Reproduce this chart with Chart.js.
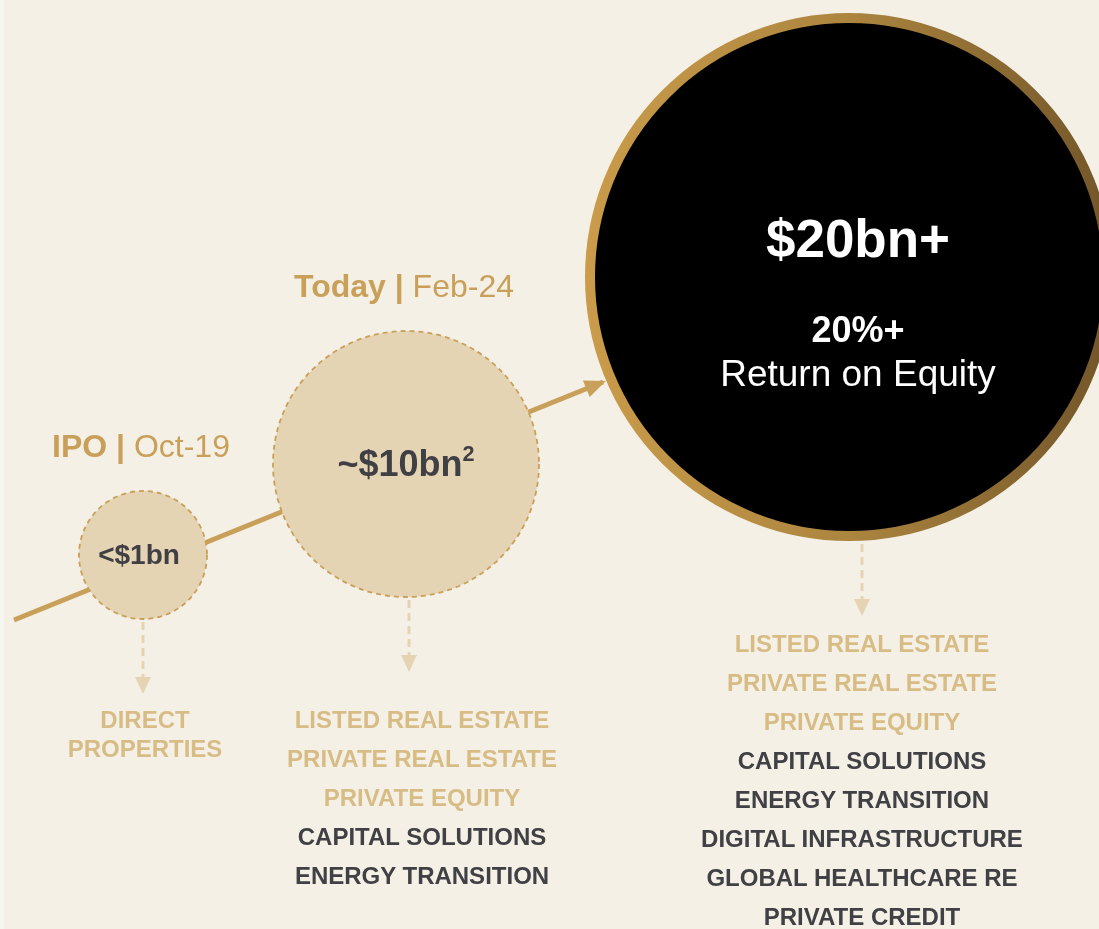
<!DOCTYPE html>
<html>
<head>
<meta charset="utf-8">
<script src="https://cdn.jsdelivr.net/npm/chart.js"></script>
<style>
  html, body { margin: 0; padding: 0; background: #f4f0e6; }
  #wrap { position: relative; width: 1099px; height: 929px; overflow: hidden;
          font-family: "Liberation Sans", Arial, sans-serif; background: #f4f0e6; }
  #wrap canvas { position: absolute; left: 0; top: 0; }
  #edge { position: absolute; left: 0; top: 0; width: 4px; height: 929px; background: #f8f6f1; }
  .lbl { position: absolute; transform: translate(-50%, -50%); white-space: nowrap; text-align: center; line-height: 1; }
  .head { color: #c9a05a; font-size: 32px; }
  .val { font-weight: bold; color: #3f3f44; }
  .big { color: #fff; }
  .list { position: absolute; transform: translateX(-50%); text-align: center; font-weight: bold;
          font-size: 24px; line-height: 39px; white-space: nowrap; }
  .list.narrow { line-height: 29px; }
  .old { color: #d8bc86; }
  .new { color: #404045; }
  sup { font-size: 0.6em; vertical-align: 0.7em; line-height: 0; }
</style>
</head>
<body>
<div id="wrap">
  <canvas id="growth" width="1099" height="929"></canvas>
  <div id="edge"></div>
</div>
<script>
// stages of the growth path
const stages = ['IPO', 'Today', 'Ambition'];
const stageDates = ['Oct-19', 'Feb-24', ''];
const aumLabels = ['<$1bn', '~$10bn', '$20bn+'];
const aumNotes = ['', '2', ''];
const roeTarget = '20%+';
const roeLabel = 'Return on Equity';

// bubble centres on the layout grid (0-1099 across, 0-929 down) and radii
const pathX = [143, 406, 849];
const pathY = [555, 464, 277];
const bubbleR = [64, 133, 259];

// trend arrow behind the bubbles
const trendX = [14, 603];
const trendY = [620, 382];

// business lines at each stage, the first legacyCount[i] in light colour
const platforms = [
  ['DIRECT PROPERTIES'],
  ['LISTED REAL ESTATE', 'PRIVATE REAL ESTATE', 'PRIVATE EQUITY', 'CAPITAL SOLUTIONS', 'ENERGY TRANSITION'],
  ['LISTED REAL ESTATE', 'PRIVATE REAL ESTATE', 'PRIVATE EQUITY', 'CAPITAL SOLUTIONS', 'ENERGY TRANSITION',
   'DIGITAL INFRASTRUCTURE', 'GLOBAL HEALTHCARE RE', 'PRIVATE CREDIT']
];
const legacyCount = [1, 3, 3];

const GOLD = '#c9a05a';
const SAND = '#e5d4b4';
const DROP = 75;                 // length of dashed drop arrows
const dropDx = [0, 3, 13];
const listGap = [25, 47, 27];    // arrow tip to first list line
const listDx = [2, 16, 13];
const textDx = [-4, 0, 9];

function ringGradient(c) {
  const chart = c.chart;
  if (!chart.chartArea) return '#b8904a';
  const x = chart.scales.x;
  const cx = x.getPixelForValue(pathX[2]);
  const r = bubbleR[2];
  const g = chart.ctx.createLinearGradient(cx - r, 0, cx + r, 0);
  g.addColorStop(0, '#c99b4a');
  g.addColorStop(0.5, '#ac853f');
  g.addColorStop(1, '#735629');
  return g;
}

const decor = {
  id: 'decor',
  afterDatasetsDraw(chart) {
    const ctx = chart.ctx;
    // arrow head on trend line
    const line = chart.getDatasetMeta(0).data;
    const p0 = line[0], p1 = line[line.length - 1];
    const a = Math.atan2(p1.y - p0.y, p1.x - p0.x);
    ctx.save();
    ctx.translate(p1.x, p1.y);
    ctx.rotate(a);
    ctx.fillStyle = GOLD;
    ctx.beginPath();
    ctx.moveTo(3, 0);
    ctx.lineTo(-18, -9);
    ctx.lineTo(-18, 9);
    ctx.closePath();
    ctx.fill();
    ctx.restore();

    const bubbles = chart.getDatasetMeta(1).data;
    bubbles.forEach((el, i) => {
      const r = el.options.radius + el.options.borderWidth / 2;
      // dashed outline on the light bubbles
      if (i < 2) {
        ctx.save();
        ctx.strokeStyle = GOLD;
        ctx.lineWidth = 1.8;
        ctx.setLineDash([5, 4]);
        ctx.beginPath();
        ctx.arc(el.x, el.y, el.options.radius, 0, Math.PI * 2);
        ctx.stroke();
        ctx.restore();
      }
      // dashed drop arrow
      const dx = el.x + dropDx[i];
      const y0 = el.y + r + 3, tip = el.y + r + DROP;
      ctx.save();
      ctx.strokeStyle = SAND;
      ctx.fillStyle = SAND;
      ctx.lineWidth = 3;
      ctx.setLineDash([8, 5]);
      ctx.beginPath();
      ctx.moveTo(dx, y0);
      ctx.lineTo(dx, tip - 16);
      ctx.stroke();
      ctx.setLineDash([]);
      ctx.beginPath();
      ctx.moveTo(dx, tip);
      ctx.lineTo(dx - 8, tip - 17);
      ctx.lineTo(dx + 8, tip - 17);
      ctx.closePath();
      ctx.fill();
      ctx.restore();
    });
  }
};

const chart = new Chart(document.getElementById('growth'), {
  type: 'bubble',
  data: {
    datasets: [
      {
        type: 'line',
        data: trendX.map((x, i) => ({ x: x, y: trendY[i] })),
        borderColor: GOLD,
        borderWidth: 5,
        pointRadius: 0,
        order: 2
      },
      {
        type: 'bubble',
        data: pathX.map((x, i) => ({ x: x, y: pathY[i], r: bubbleR[i] })),
        backgroundColor: [SAND, SAND, '#000000'],
        borderColor: ringGradient,
        borderWidth: [0, 0, 10],
        hoverRadius: 0,
        clip: false,
        order: 1
      }
    ]
  },
  options: {
    responsive: false,
    animation: false,
    events: [],
    layout: { padding: 0, autoPadding: false },
    plugins: { legend: { display: false }, tooltip: { enabled: false } },
    scales: {
      x: { type: 'linear', min: 0, max: 1099, display: false },
      y: { type: 'linear', min: 0, max: 929, reverse: true, display: false }
    }
  },
  plugins: [decor]
});

// text overlays placed from the bubble elements
const wrap = document.getElementById('wrap');
function addText(cls, x, y, html, style) {
  const d = document.createElement('div');
  d.className = cls;
  d.style.left = x + 'px';
  d.style.top = y + 'px';
  if (style) Object.assign(d.style, style);
  d.innerHTML = html;
  wrap.appendChild(d);
  return d;
}

chart.getDatasetMeta(1).data.forEach((el, i) => {
  const r = el.options.radius + el.options.borderWidth / 2;
  const tx = el.x + textDx[i];
  if (stageDates[i]) {
    addText('lbl head', el.x - 2, el.y - r - 45,
      '<b>' + stages[i] + ' |</b> ' + stageDates[i]);
  }
  const note = aumNotes[i] ? '<sup>' + aumNotes[i] + '</sup>' : '';
  const esc = aumLabels[i].replace('<', '&lt;');
  if (i < 2) {
    addText('lbl val', tx, el.y, esc + note, { fontSize: i === 0 ? '28px' : '36px' });
  } else {
    addText('lbl val big', tx, el.y - 39, esc, { fontSize: '53px' });
    addText('lbl val big', tx, el.y + 53, roeTarget, { fontSize: '36px' });
    addText('lbl big', tx, el.y + 96, roeLabel, { fontSize: '37px' });
  }
  const lines = platforms[i].map((p, k) =>
    '<div class="' + (k < legacyCount[i] ? 'old' : 'new') + '">' + p.replace(' ', i === 0 ? '<br>' : ' ') + '</div>');
  const lh = i === 0 ? 29 : 39;
  addText('list' + (i === 0 ? ' narrow' : ''), el.x + listDx[i],
    el.y + r + DROP + listGap[i] - lh / 2, lines.join(''));
});
</script>
</body>
</html>
